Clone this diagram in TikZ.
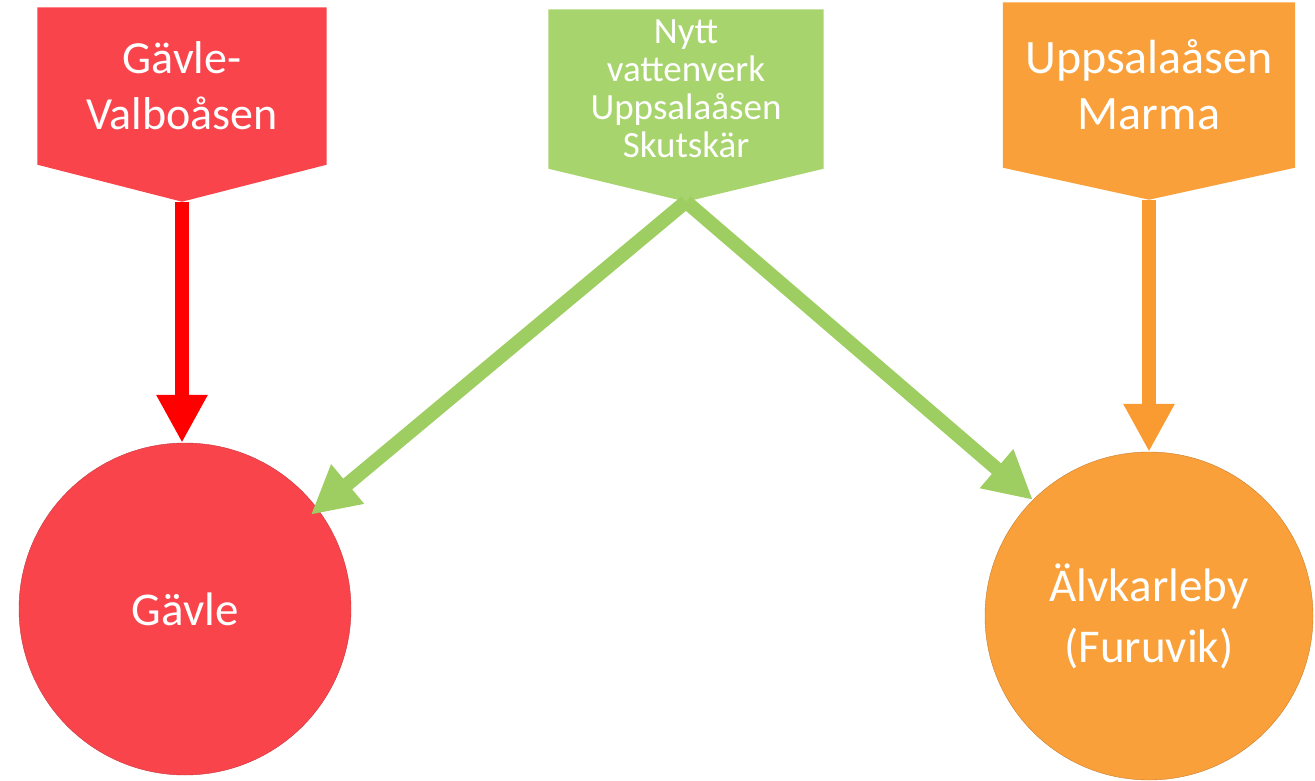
\documentclass[tikz,border=0pt]{standalone}
\usepackage{fontspec}
\setmainfont{Carlito}
\usetikzlibrary{arrows.meta,positioning,backgrounds}
\definecolor{boxred}{RGB}{250,68,76}
\definecolor{arrowred}{RGB}{255,0,0}
\definecolor{boxgreen}{RGB}{168,212,110}
\definecolor{arrowgreen}{RGB}{158,206,98}
\definecolor{boxorange}{RGB}{250,160,58}
\definecolor{arroworange}{RGB}{250,155,50}
\tikzset{
    source-box/.style = {text=white, align=center, inner sep=0pt, font=\fontsize{46}{56}\selectfont},
    town-circle/.style = {circle, minimum size=332pt, inner sep=0pt, text=white, align=center, font=\fontsize{47}{61}\selectfont},
    feed-line/.style = {line width=14pt, -{Triangle[width=48pt,length=48pt]}},
}

\begin{document}
\begin{tikzpicture}[x=1pt,y=-1pt]
\useasboundingbox (0,0) rectangle (1315,781);
% sources
\node[source-box, minimum width=289pt, minimum height=157pt] (valbo) at (182,86) {Gävle-\\Valboåsen};
\node[source-box, minimum width=275pt, minimum height=159pt, font=\fontsize{37}{38}\selectfont] (skutskar) at (686,89) {Nytt\\vattenverk\\Uppsalaåsen\\Skutskär};
\node[source-box, minimum width=292pt, minimum height=165pt, font=\fontsize{48}{56}\selectfont] (marma) at (1149,85) {Uppsalaåsen\\Marma};
\coordinate[below=37pt of valbo.south] (valbo-tip);
\coordinate[below=33pt of skutskar.south] (skutskar-tip);
\coordinate[below=32pt of marma.south] (marma-tip);
\begin{scope}[on background layer]
\fill[boxred] (valbo.north west) -- (valbo.north east) -- (valbo.south east) -- (valbo-tip) -- (valbo.south west) -- cycle;
\fill[boxgreen] (skutskar.north west) -- (skutskar.north east) -- (skutskar.south east) -- (skutskar-tip) -- (skutskar.south west) -- cycle;
\fill[boxorange] (marma.north west) -- (marma.north east) -- (marma.south east) -- (marma-tip) -- (marma.south west) -- cycle;
\end{scope}
% towns
\node[town-circle, fill=boxred, draw=boxred!80!black] (gavle) at (185,609) {Gävle};
\node[town-circle, fill=boxorange, draw=boxorange!80!black, minimum size=328pt] (alvkarleby) at (1149,616) {Älvkarleby\\(Furuvik)};
% feeds
\draw[feed-line, arrowred] (valbo-tip) -- (valbo-tip |- gavle.north);
\draw[feed-line, arroworange] (marma-tip) -- (marma-tip |- alvkarleby.north);
\draw[feed-line, arrowgreen, shorten >=-9pt] (skutskar-tip) -- (gavle.37);
\draw[feed-line, arrowgreen] (skutskar-tip) -- (alvkarleby.135);
\end{tikzpicture}
\end{document}
